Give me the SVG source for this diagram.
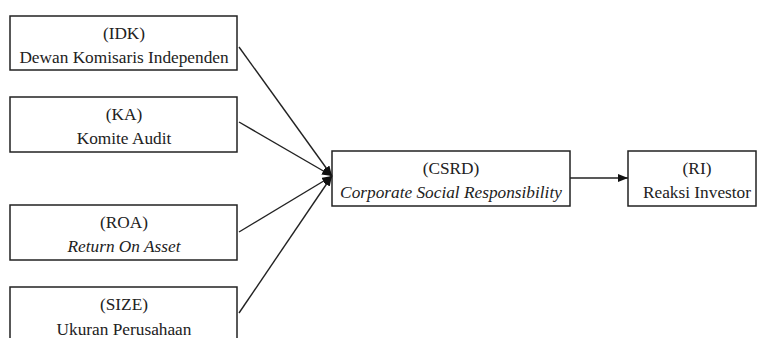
<svg xmlns="http://www.w3.org/2000/svg" width="758" height="338" viewBox="0 0 758 338">
<defs>
<style>
.box{fill:#fff;stroke:#222;stroke-width:1.5}
.t{font-family:'Liberation Serif','Times New Roman',serif;font-size:17.3px;fill:#222;text-anchor:middle}
.i{font-style:italic}
.c{stroke:#222;stroke-width:1.4;fill:none;marker-end:url(#ah)}
</style>
<marker id="ah" viewBox="0 0 10 8" refX="10" refY="4" markerWidth="10" markerHeight="8" markerUnits="userSpaceOnUse" orient="auto">
<path d="M0,0 L10,4 L0,8 Z" fill="#111"/>
</marker>
</defs>
<rect width="758" height="338" fill="#fff"/>
<g id="IDK">
<rect class="box" x="10" y="16" width="227" height="54"/>
<text class="t" x="124" y="39">(IDK)</text>
<text class="t" x="124" y="63">Dewan Komisaris Independen</text>
</g>
<g id="KA">
<rect class="box" x="10" y="97" width="227" height="55"/>
<text class="t" x="124" y="120">(KA)</text>
<text class="t" x="124" y="144">Komite Audit</text>
</g>
<g id="ROA">
<rect class="box" x="10" y="205" width="227" height="55"/>
<text class="t" x="124" y="228">(ROA)</text>
<text class="t i" x="124" y="252">Return On Asset</text>
</g>
<g id="SIZE">
<rect class="box" x="10" y="287" width="227" height="60"/>
<text class="t" x="124" y="310">(SIZE)</text>
<text class="t" x="124" y="335">Ukuran Perusahaan</text>
</g>
<g id="CSRD">
<rect class="box" x="332" y="151" width="238" height="55"/>
<text class="t" x="451" y="174">(CSRD)</text>
<text class="t i" x="451" y="198">Corporate Social Responsibility</text>
</g>
<g id="RI">
<rect class="box" x="628" y="151" width="128" height="55"/>
<text class="t" x="697" y="174">(RI)</text>
<text class="t" x="697" y="198">Reaksi Investor</text>
</g>
<g id="connectors">
<line class="c" x1="239" y1="47" x2="332" y2="176"/>
<line class="c" x1="239" y1="122" x2="332" y2="176"/>
<line class="c" x1="239" y1="232" x2="332" y2="176"/>
<line class="c" x1="239" y1="313" x2="332" y2="176"/>
<line class="c" x1="570" y1="178" x2="628" y2="178"/>
</g>
</svg>
